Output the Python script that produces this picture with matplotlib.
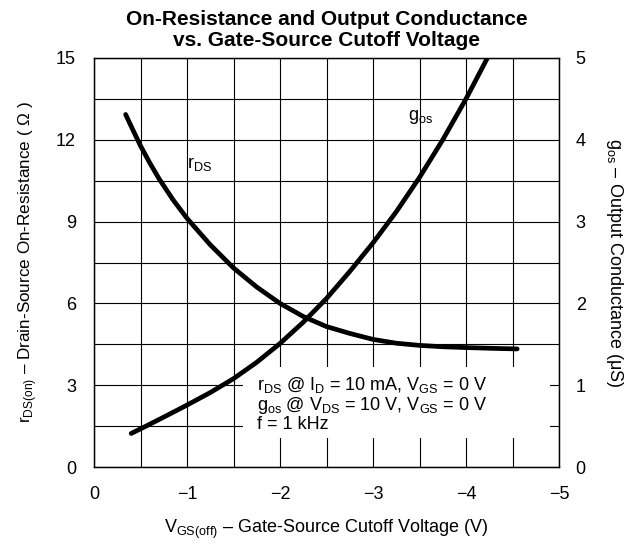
import matplotlib
matplotlib.use("Agg")
import numpy as np
import matplotlib.pyplot as plt
from matplotlib.patches import Rectangle

plt.rcParams["font.family"] = ["Liberation Sans", "DejaVu Sans"]
plt.rcParams["mathtext.fontset"] = "custom"
plt.rcParams["mathtext.rm"] = "Liberation Sans"

# ==========================================================
# DATA
# ==========================================================

# rDS(on) vs VGS(off), left axis (ohm)
rds_v = [-0.34, -0.42, -0.50, -0.60, -0.70, -0.85, -1.00, -1.25, -1.50,
         -1.75, -2.00, -2.25, -2.50, -2.75, -3.00, -3.25, -3.50, -3.75,
         -4.00, -4.30, -4.55]
rds_r = [12.93, 12.35, 11.78, 11.15, 10.57, 9.80, 9.12, 8.15, 7.30,
         6.60, 6.00, 5.52, 5.15, 4.90, 4.68, 4.54, 4.46, 4.41,
         4.38, 4.35, 4.33]

# gos vs VGS(off), right axis (uS)
gos_v = [-0.40, -0.56, -0.75, -1.00, -1.25, -1.50, -1.75, -2.00, -2.25,
         -2.50, -2.75, -3.00, -3.25, -3.50, -3.75, -4.00, -4.23]
gos_g = [0.41, 0.50, 0.61, 0.757, 0.91, 1.08, 1.28, 1.51, 1.77,
         2.06, 2.39, 2.74, 3.12, 3.54, 4.00, 4.50, 5.00]

x_ticks = [0, -1, -2, -3, -4, -5]
x_labels = ["0", "\u22121", "\u22122", "\u22123", "\u22124", "\u22125"]
left_ticks = [0, 3, 6, 9, 12, 15]
right_ticks = [0, 1, 2, 3, 4, 5]

# ==========================================================
# FIGURE
# ==========================================================

fig = plt.figure(figsize=(6.27, 5.44), dpi=100)
ax = fig.add_axes([94 / 627, 1 - 467 / 544, 465 / 627, 409 / 544])
ax2 = ax.twinx()

ax.set_xlim(0, -5)
ax.set_ylim(0, 15)
ax2.set_ylim(0, 5)

ax.set_xticks(x_ticks)
ax.set_xticklabels(x_labels)
ax.set_xticks(np.arange(0, -5.01, -0.5), minor=True)
ax.set_yticks(left_ticks)
ax.set_yticks(np.arange(0, 15.01, 1.5), minor=True)
ax2.set_yticks(right_ticks)

ax.grid(True, which="both", color="black", linewidth=0.8)
ax.set_axisbelow(True)

ax.tick_params(which="both", length=0, labelsize=13)
ax.tick_params(axis="x", pad=14)
ax.tick_params(axis="y", pad=13)
ax2.tick_params(which="both", length=0, labelsize=13, pad=12)

for a in (ax, ax2):
    for s in a.spines.values():
        s.set_linewidth(0.9)
        s.set_color("black")

# white area behind the test conditions
ax.add_patch(Rectangle((-1.6, 1.06), -3.3, 2.6, facecolor="white",
                       edgecolor="none", zorder=1.5))

# curves
ax.plot(rds_v, rds_r, color="black", linewidth=3.4,
        solid_capstyle="round", solid_joinstyle="round", zorder=5)
ax2.plot(gos_v, gos_g, color="black", linewidth=3.4,
         solid_capstyle="round", solid_joinstyle="round", zorder=5)

# curve labels
ax.text(-1.14, 11.1, "r$_{\\mathregular{DS}}$", fontsize=13,
        ha="center", va="center")
ax.text(-3.51, 12.85, "g$_{\\mathregular{os}}$", fontsize=13,
        ha="center", va="center")

# test conditions
cond = ("r$_{\\mathregular{DS}}$ @ I$_{\\mathregular{D}}$ = 10 mA, "
        "V$_{\\mathregular{GS}}$ = 0 V\n"
        "g$_{\\mathregular{os}}$ @ V$_{\\mathregular{DS}}$ = 10 V, "
        "V$_{\\mathregular{GS}}$ = 0 V\n"
        "f = 1 kHz")
ax.text(-1.75, 2.3, cond, fontsize=13, ha="left", va="center",
        linespacing=1.0, zorder=4)

# axis labels
ax.set_xlabel("V$_{\\mathregular{GS(off)}}$ \u2013 Gate-Source Cutoff Voltage (V)",
              fontsize=13, labelpad=10.5)
ax.set_ylabel("r$_{\\mathregular{DS(on)}}$ \u2013 Drain-Source On-Resistance ( \u03a9 )",
              fontsize=12.3, labelpad=12)
ax2.set_ylabel("g$_{\\mathregular{os}}$ \u2013 Output Conductance (\u03bcS)",
               fontsize=13, rotation=270, labelpad=28)

ax.set_title("On-Resistance and Output Conductance\nvs. Gate-Source Cutoff Voltage",
             fontsize=15, fontweight="bold", linespacing=1.1, pad=9)

fig.savefig("out.png", dpi=100)
